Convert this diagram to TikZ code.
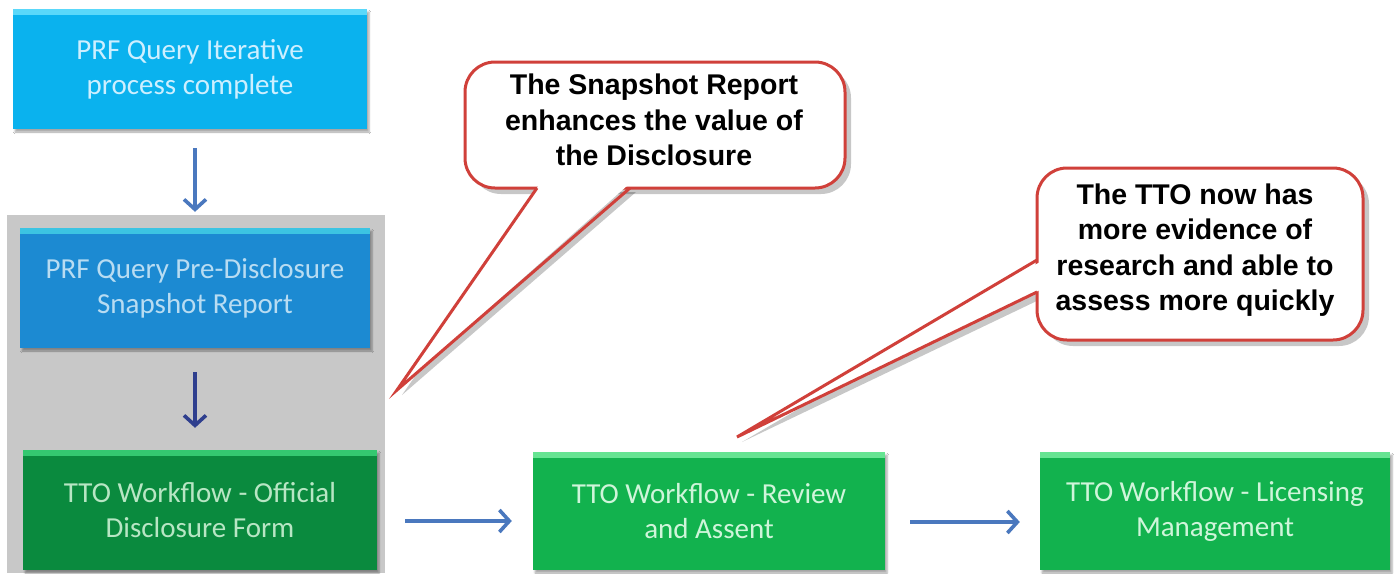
\documentclass[tikz,border=0pt]{standalone}
\usepackage{fontspec}
\setmainfont{Carlito}
\newfontfamily\calloutfont{Liberation Sans}
\usetikzlibrary{arrows.meta,shadows.blur}
\definecolor{cyanbox}{HTML}{0AB2EE}
\definecolor{cyantop}{HTML}{5AD8FA}
\definecolor{cyantxt}{HTML}{CDEFFF}
\definecolor{bluebox}{HTML}{1C8AD2}
\definecolor{bluetop}{HTML}{3CC4E2}
\definecolor{bluetxt}{HTML}{B8DCF2}
\definecolor{dgreen}{HTML}{0A8A3E}
\definecolor{dgreentop}{HTML}{34C870}
\definecolor{dgreentxt}{HTML}{B8E6C4}
\definecolor{lgreen}{HTML}{12B24E}
\definecolor{lgreentop}{HTML}{66E492}
\definecolor{lgreentxt}{HTML}{CFF5DA}
\definecolor{panel}{HTML}{C8C8C8}
\definecolor{callred}{HTML}{D0403A}
\definecolor{arrblue}{HTML}{4A78BE}
\definecolor{arrdark}{HTML}{2F3F8E}
\tikzset{
  flowbox/.style n args={3}{draw=none, fill=#1, text=#2, align=center,
    font=\fontsize{29}{35}\selectfont, inner sep=0pt,
    blur shadow={shadow xshift=2pt, shadow yshift=-3pt, shadow blur steps=5, shadow opacity=35},
    path picture={\fill[#3] (path picture bounding box.north west) rectangle ([yshift=-6pt]path picture bounding box.north east);}},
  flowarrow/.style={draw=#1, line width=3.6pt, -{Straight Barb[length=10pt,width=22pt,line width=3.6pt]}},
  callshape/.style={draw=callred, line width=3pt, fill=white},
  calltext/.style={align=center, text=black, font=\calloutfont\bfseries\fontsize{28.5}{35.5}\selectfont, inner sep=0pt},
  callshadow/.style={fill=black, opacity=0.22}
}
\begin{document}
\begin{tikzpicture}[x=1pt,y=-1pt]
\useasboundingbox (0,0) rectangle (1400,573);
\fill[white] (0,0) rectangle (1400,573);
% grey panel
\fill[panel] (7,215) rectangle (385,573);
% boxes
\node[flowbox={cyanbox}{cyantxt}{cyantop}, minimum width=354pt, minimum height=120pt] (b1) at (190,69) {PRF Query Iterative\\process complete};
\node[flowbox={bluebox}{bluetxt}{bluetop}, minimum width=350pt, minimum height=120pt] (b2) at (195,288) {PRF Query Pre-Disclosure\\Snapshot Report};
\node[flowbox={dgreen}{dgreentxt}{dgreentop}, minimum width=354pt, minimum height=120pt] (b3) at (200,510) {TTO Workflow - Official\\Disclosure Form};
\node[flowbox={lgreen}{lgreentxt}{lgreentop}, minimum width=352pt, minimum height=118pt] (b4) at (709,511) {TTO Workflow - Review\\and Assent};
\node[flowbox={lgreen}{lgreentxt}{lgreentop}, minimum width=350pt, minimum height=118pt] (b5) at (1215,511) {TTO Workflow - Licensing\\Management};
% arrows
\draw[flowarrow=arrblue, shorten <=19pt, shorten >=16pt] (b1.south -| b2) -- (b2.north);
\draw[flowarrow=arrdark, shorten <=24pt, shorten >=22pt] (b2.south) -- (b2.south |- b3.north);
\draw[flowarrow=arrblue, shorten <=28pt, shorten >=21pt] ([yshift=-11pt]b3.east) -- ([yshift=-11pt]b3.east -| b4.west);
\draw[flowarrow=arrblue, shorten <=25pt, shorten >=20pt] ([yshift=-11pt]b4.east) -- ([yshift=-11pt]b4.east -| b5.west);
% callout 1
\coordinate (tip1) at (397,390);
\fill[callshadow] (471,68) [rounded corners=30pt] rectangle (851,194);
\fill[callshadow] (543,192) -- (402,395) -- (636,192) -- cycle;
\draw[callshape, rounded corners=30pt] (465,62) rectangle (845,188);
\fill[white] (539,185) -- (tip1) -- (628,185) -- cycle;
\draw[callred, line width=3pt, line join=miter] (537,188) -- (tip1) -- (630,188);
\node[calltext] (c1) at (654,120) {The Snapshot Report\\enhances the value of\\the Disclosure};
% callout 2
\coordinate (tip2) at (737,437);
\fill[callshadow] (1043,174) [rounded corners=30pt] rectangle (1369,346);
\fill[callshadow] (1043,266) -- (742,442) -- (1043,298) -- cycle;
\draw[callshape, rounded corners=30pt] (1037,168) rectangle (1363,340);
\fill[white] (1040,262) -- (tip2) -- (1040,290) -- cycle;
\draw[callred, line width=3pt, line join=miter] (1037,260) -- (tip2) -- (1037,292);
\node[calltext] (c2) at (1195,250) {The TTO now has\\more evidence of\\research and able to\\assess more quickly};
\end{tikzpicture}
\end{document}
